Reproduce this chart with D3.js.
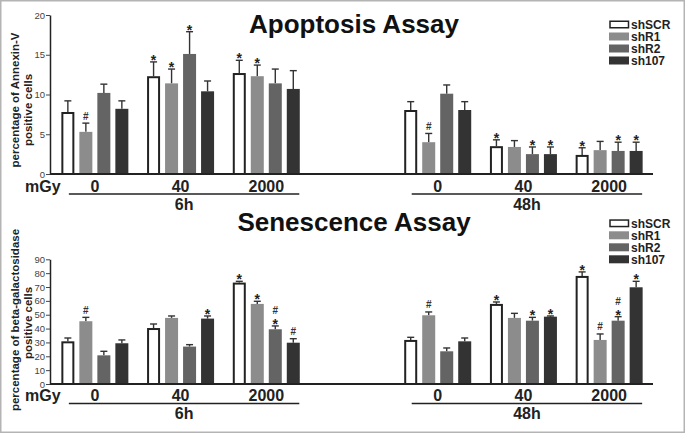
<!DOCTYPE html>
<html>
<head>
<meta charset="utf-8">
<script src="https://cdn.jsdelivr.net/npm/d3@7"></script>
<style>
  html, body { margin: 0; padding: 0; background: #fff; }
  svg { display: block; font-family: "Liberation Sans", Arial, sans-serif; }
</style>
</head>
<body>
<svg id="chart" width="685" height="433"></svg>
<script>
// ---------- DATA ----------
const series = ["shSCR", "shR1", "shR2", "sh107"];
const seriesColors = ["#ffffff", "#8c8c8c", "#646464", "#333333"];
const times = ["6h", "48h"];
const doses = ["0", "40", "2000"];
// slot keys for the x scale (an empty slot separates the two time points)
const slots = ["6h|0", "6h|40", "6h|2000", "gap", "48h|0", "48h|40", "48h|2000"];
const groupKeys = ["6h|0", "6h|40", "6h|2000", "48h|0", "48h|40", "48h|2000"];

// Apoptosis: mean per group (rows) and series (columns)
const apoptosisMean = [
  [7.8, 5.3, 10.2, 8.2],
  [12.3, 11.4, 15.1, 10.4],
  [12.7, 12.3, 11.4, 10.7],
  [8.05, 4.0, 10.1, 8.05],
  [3.5, 3.4, 2.5, 2.5],
  [2.4, 3.0, 2.9, 2.9]
];
const apoptosisErr = [
  [1.4, 1.1, 1.1, 1.0],
  [1.8, 1.8, 2.8, 1.3],
  [1.6, 1.4, 1.8, 2.3],
  [1.05, 1.1, 1.1, 1.05],
  [0.8, 0.8, 0.9, 0.9],
  [0.9, 1.1, 1.1, 1.1]
];
const apoptosisMarks = [
  ["", "#", "", ""],
  ["*", "*", "*", ""],
  ["*", "*", "", ""],
  ["", "#", "", ""],
  ["*", "", "*", "*"],
  ["*", "", "*", "*"]
];
const apoptosisTicks = [0, 5, 10, 15, 20];

// Senescence
const senescenceMean = [
  [30.8, 45.3, 20.7, 29.4],
  [40.4, 47.7, 27.0, 47.2],
  [73.2, 57.8, 39.5, 29.8],
  [31.8, 49.6, 23.6, 30.8],
  [57.8, 47.7, 45.7, 48.6],
  [78.0, 31.8, 45.7, 69.8]
];
const senescenceErr = [
  [2.4, 2.8, 2.9, 2.4],
  [2.9, 1.4, 1.4, 1.9],
  [0.9, 1.9, 2.4, 2.9],
  [1.9, 2.4, 2.4, 2.4],
  [1.4, 3.3, 2.4, 0.5],
  [2.9, 4.3, 2.9, 4.3]
];
const senescenceMarks = [
  ["", "#", "", ""],
  ["", "", "", "*"],
  ["*", "*", "#*", "#"],
  ["", "#", "", ""],
  ["*", "", "*", "*"],
  ["*", "#", "#*", "*"]
];
const senescenceTicks = [0, 10, 20, 30, 40, 50, 60, 70, 80, 90];

// ---------- DRAW ----------
const svg = d3.select("#chart");
const FONT = "'Liberation Sans', Arial, sans-serif";
const INK = "#222";

svg.append("rect").attr("x", 0.75).attr("y", 0.75).attr("width", 683.5).attr("height", 431.5)
  .attr("fill", "#fff").attr("stroke", "#b4b4b4").attr("stroke-width", 1.5);

const x = d3.scaleBand().domain(slots).range([52, 652]);
const xInner = d3.scaleBand().domain(series).range([-33.5, 33.5]).paddingInner(5 / 18).paddingOuter(0);
const color = d3.scaleOrdinal().domain(series).range(seriesColors);
const center = k => x(k) + x.bandwidth() / 2;

function panel(cfg) {
  const y = d3.scaleLinear().domain(cfg.domain).range([cfg.y0, cfg.yTop]);
  const g = svg.append("g");

  // title
  g.append("text").attr("x", 354).attr("y", cfg.titleY).attr("text-anchor", "middle")
    .attr("font-size", 26).attr("font-weight", "bold").attr("fill", "#111").text(cfg.title);

  // y axis
  const ax = g.append("g").attr("transform", "translate(50,0)")
    .call(d3.axisLeft(y).tickValues(cfg.ticks).tickSize(4).tickSizeOuter(0).tickPadding(1));
  ax.select(".domain").attr("stroke", INK).attr("stroke-width", 1.5);
  ax.selectAll(".tick line").attr("stroke", "#444").attr("stroke-width", 1);
  ax.selectAll(".tick text").attr("font-family", FONT).attr("font-size", 9.5).attr("fill", "#444");

  // y label (two lines)
  cfg.ylabel.forEach((t, i) => {
    g.append("text")
      .attr("transform", `translate(${cfg.ylabelX[i]},${cfg.ylabelY[i]}) rotate(-90)`)
      .attr("text-anchor", "middle").attr("font-size", 11.5).attr("font-weight", "bold")
      .attr("fill", INK).text(t);
  });

  // bars
  groupKeys.forEach((k, gi) => {
    const cx = center(k);
    series.forEach((s, si) => {
      const v = cfg.mean[gi][si];
      const e = cfg.err[gi][si];
      const bx = cx + xInner(s);
      const bw = xInner.bandwidth();
      const top = y(v);
      const errTop = y(v + e);
      const mid = bx + bw / 2;
      // error bar
      g.append("line").attr("x1", mid).attr("x2", mid).attr("y1", top).attr("y2", errTop)
        .attr("stroke", "#333").attr("stroke-width", 1.4);
      g.append("line").attr("x1", mid - 3.5).attr("x2", mid + 3.5).attr("y1", errTop).attr("y2", errTop)
        .attr("stroke", "#333").attr("stroke-width", 1.4);
      // bar
      if (si === 0) {
        g.append("rect").attr("x", bx + 1).attr("y", top + 1).attr("width", bw - 2)
          .attr("height", Math.max(0, y(0) - top - 1))
          .attr("fill", color(s)).attr("stroke", INK).attr("stroke-width", 2);
      } else {
        g.append("rect").attr("x", bx).attr("y", top).attr("width", bw)
          .attr("height", y(0) - top).attr("fill", color(s));
      }
      // significance marks
      const m = cfg.marks[gi][si];
      if (m.includes("*")) {
        g.append("text").attr("x", mid).attr("y", errTop + 3).attr("text-anchor", "middle")
          .attr("font-size", 14).attr("font-weight", "bold").attr("fill", INK).text("*");
      }
      if (m.includes("#")) {
        const by = m.includes("*") ? errTop - 12 : errTop - 3.5;
        g.append("text").attr("x", mid).attr("y", by).attr("text-anchor", "middle")
          .attr("font-size", 10).attr("font-weight", "bold").attr("fill", "#333").text("#");
      }
    });
  });

  // x baseline
  g.append("line").attr("x1", 50).attr("x2", 653).attr("y1", y(0)).attr("y2", y(0))
    .attr("stroke", INK).attr("stroke-width", 2);

  // mGy + dose labels
  g.append("text").attr("x", 25).attr("y", cfg.doseY).attr("font-size", 16)
    .attr("font-weight", "bold").attr("fill", INK).text("mGy");
  groupKeys.forEach(k => {
    g.append("text").attr("x", center(k)).attr("y", cfg.doseY).attr("text-anchor", "middle")
      .attr("font-size", 16).attr("font-weight", "bold").attr("fill", INK).text(k.split("|")[1]);
  });
  // time underline + label
  times.forEach(t => {
    const a = center(t + "|" + doses[0]) - 26;
    const b = center(t + "|" + doses[2]) + 33;
    g.append("line").attr("x1", a).attr("x2", b).attr("y1", cfg.lineY).attr("y2", cfg.lineY)
      .attr("stroke", INK).attr("stroke-width", 1.3);
    g.append("text").attr("x", (a + b) / 2).attr("y", cfg.timeY).attr("text-anchor", "middle")
      .attr("font-size", 16).attr("font-weight", "bold").attr("fill", INK).text(t);
  });

  // legend
  series.forEach((s, i) => {
    const ly = cfg.legendY + i * 12;
    if (i === 0) {
      g.append("rect").attr("x", 610).attr("y", ly + 0.75).attr("width", 18.5).attr("height", 6.5)
        .attr("fill", "#fff").attr("stroke", INK).attr("stroke-width", 1.5);
    } else {
      g.append("rect").attr("x", 609).attr("y", ly).attr("width", 20).attr("height", 8)
        .attr("fill", color(s));
    }
    g.append("text").attr("x", 631).attr("y", ly + 8.5).attr("font-size", 12)
      .attr("font-weight", "bold").attr("fill", INK).text(s);
  });
}

panel({
  title: "Apoptosis Assay", titleY: 33,
  domain: [0, 20], y0: 174, yTop: 15, ticks: apoptosisTicks,
  mean: apoptosisMean, err: apoptosisErr, marks: apoptosisMarks,
  ylabel: ["percentage of Annexin-V", "positive cells"],
  ylabelX: [18.5, 31.5], ylabelY: [100, 110],
  doseY: 191.5, lineY: 194, timeY: 210,
  legendY: 20.5
});

panel({
  title: "Senescence Assay", titleY: 230.5,
  domain: [0, 90], y0: 384, yTop: 259.3, ticks: senescenceTicks,
  mean: senescenceMean, err: senescenceErr, marks: senescenceMarks,
  ylabel: ["percentage of beta-galactosidase", "positive cells"],
  ylabelX: [18.5, 31.5], ylabelY: [320, 323],
  doseY: 400.5, lineY: 403.5, timeY: 418.5,
  legendY: 219.3
});
</script>
</body>
</html>
